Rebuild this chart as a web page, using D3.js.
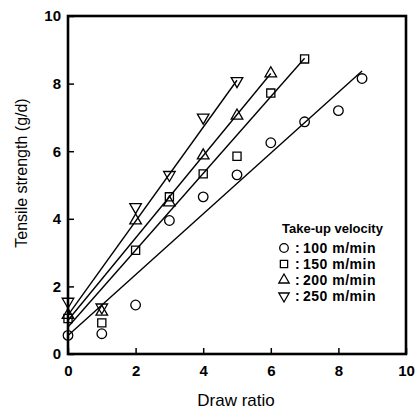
<!DOCTYPE html>
<html>
<head>
<meta charset="utf-8">
<script src="https://cdn.jsdelivr.net/npm/d3@7"></script>
<style>
  body { margin: 0; background: #fff; }
  svg { display: block; font-family: "Liberation Sans", Arial, sans-serif; }
</style>
</head>
<body>
<svg id="chart" width="416" height="412"></svg>
<script>
// draw ratio values for each take-up velocity
const drawRatio100 = [0, 1, 2, 3, 4, 5, 6, 7, 8, 8.7];
const strength100  = [0.55, 0.6, 1.45, 3.95, 4.65, 5.3, 6.25, 6.87, 7.2, 8.15];
const drawRatio150 = [0, 1, 2, 3, 4, 5, 6, 7];
const strength150  = [1.05, 0.92, 3.07, 4.65, 5.33, 5.85, 7.72, 8.73];
const drawRatio200 = [0, 1, 2, 3, 4, 5, 6];
const strength200  = [1.15, 1.25, 3.95, 4.48, 5.87, 7.05, 8.3];
const drawRatio250 = [0, 1, 2, 3, 4, 5];
const strength250  = [1.55, 1.38, 4.35, 5.3, 7.0, 8.08];

// fitted lines, [x0, y0, x1, y1]
const fit100 = [0, 0.55, 8.7, 8.37];
const fit150 = [0, 0.8, 7, 8.75];
const fit200 = [0, 1.0, 6, 8.3];
const fit250 = [0, 1.15, 5, 8.1];

const legendLabels = ["100 m/min", "150 m/min", "200 m/min", "250 m/min"];
const xTicks = [0, 2, 4, 6, 8, 10];
const yTicks = [0, 2, 4, 6, 8, 10];

const series = [
  { x: drawRatio100, y: strength100, fit: fit100, shape: "circle" },
  { x: drawRatio150, y: strength150, fit: fit150, shape: "square" },
  { x: drawRatio200, y: strength200, fit: fit200, shape: "up" },
  { x: drawRatio250, y: strength250, fit: fit250, shape: "down" }
];

var mLeft = 68, mTop = 16, w = 338, h = 338;

var svg = d3.select("#chart");

var x = d3.scaleLinear().domain([0, 10]).range([mLeft, mLeft + w]);
var y = d3.scaleLinear().domain([0, 10]).range([mTop + h, mTop]);

function symbolPath(shape, scale) {
  var s = scale || 1;
  if (shape == "circle") return d3.symbol().type(d3.symbolCircle).size(72 * s)();
  if (shape == "square") return d3.symbol().type(d3.symbolSquare).size(66 * s)();
  return d3.symbol().type(d3.symbolTriangle).size(58 * s)();
}
function symbolTransform(shape, px, py) {
  return "translate(" + px + "," + py + ")" + (shape == "down" ? " rotate(180)" : "");
}

// axes (ticks pointing inward)
var xAxis = svg.append("g")
  .attr("transform", "translate(0," + (mTop + h) + ")")
  .call(d3.axisBottom(x).tickValues(xTicks).tickSize(-6).tickPadding(11));
var yAxis = svg.append("g")
  .attr("transform", "translate(" + mLeft + ",0)")
  .call(d3.axisLeft(y).tickValues(yTicks).tickSize(-6).tickPadding(7));

[xAxis, yAxis].forEach(function (a) {
  a.select(".domain").remove();
  a.selectAll("line").attr("stroke", "#000").attr("stroke-width", 1.5);
  a.selectAll("text")
    .attr("fill", "#000")
    .style("font-size", "15px")
    .style("font-weight", "bold")
    .style("font-family", "'Liberation Sans', Arial, sans-serif");
});

// frame
svg.append("rect")
  .attr("x", mLeft).attr("y", mTop)
  .attr("width", w).attr("height", h)
  .attr("fill", "none")
  .attr("stroke", "#000")
  .attr("stroke-width", 2.6);

// fit lines
series.forEach(function (s) {
  svg.append("line")
    .attr("x1", x(s.fit[0])).attr("y1", y(s.fit[1]))
    .attr("x2", x(s.fit[2])).attr("y2", y(s.fit[3]))
    .attr("stroke", "#000")
    .attr("stroke-width", 1.4);
});

// markers
series.forEach(function (s) {
  svg.append("g").selectAll("path")
    .data(s.x.map(function (d, i) { return [d, s.y[i]]; }))
    .enter()
    .append("path")
    .attr("d", symbolPath(s.shape))
    .attr("transform", function (d) { return symbolTransform(s.shape, x(d[0]), y(d[1])); })
    .attr("fill", "none")
    .attr("stroke", "#000")
    .attr("stroke-width", 1.3);
});

// legend
var legend = svg.append("g");
legend.append("text")
  .attr("x", 282).attr("y", 233)
  .style("font-size", "13px")
  .style("font-weight", "bold")
  .text("Take-up velocity");

series.forEach(function (s, i) {
  var ly = 248 + i * 16;
  legend.append("path")
    .attr("d", symbolPath(s.shape, 0.8))
    .attr("transform", symbolTransform(s.shape, 284, ly))
    .attr("fill", "none")
    .attr("stroke", "#000")
    .attr("stroke-width", 1.3);
  legend.append("text")
    .attr("x", 295).attr("y", ly + 5)
    .style("font-size", "14px")
    .style("font-weight", "bold")
    .text(":");
  legend.append("text")
    .attr("x", 303).attr("y", ly + 5)
    .style("font-size", "14px")
    .style("font-weight", "bold")
    .style("letter-spacing", "0.5px")
    .text(legendLabels[i]);
});

// axis titles
svg.append("text")
  .attr("x", mLeft + w / 2 - 1).attr("y", 406)
  .attr("text-anchor", "middle")
  .style("font-size", "17px")
  .text("Draw ratio");

svg.append("text")
  .attr("transform", "translate(27,173) rotate(-90)")
  .attr("text-anchor", "middle")
  .style("font-size", "16px")
  .text("Tensile strength (g/d)");
</script>
</body>
</html>
